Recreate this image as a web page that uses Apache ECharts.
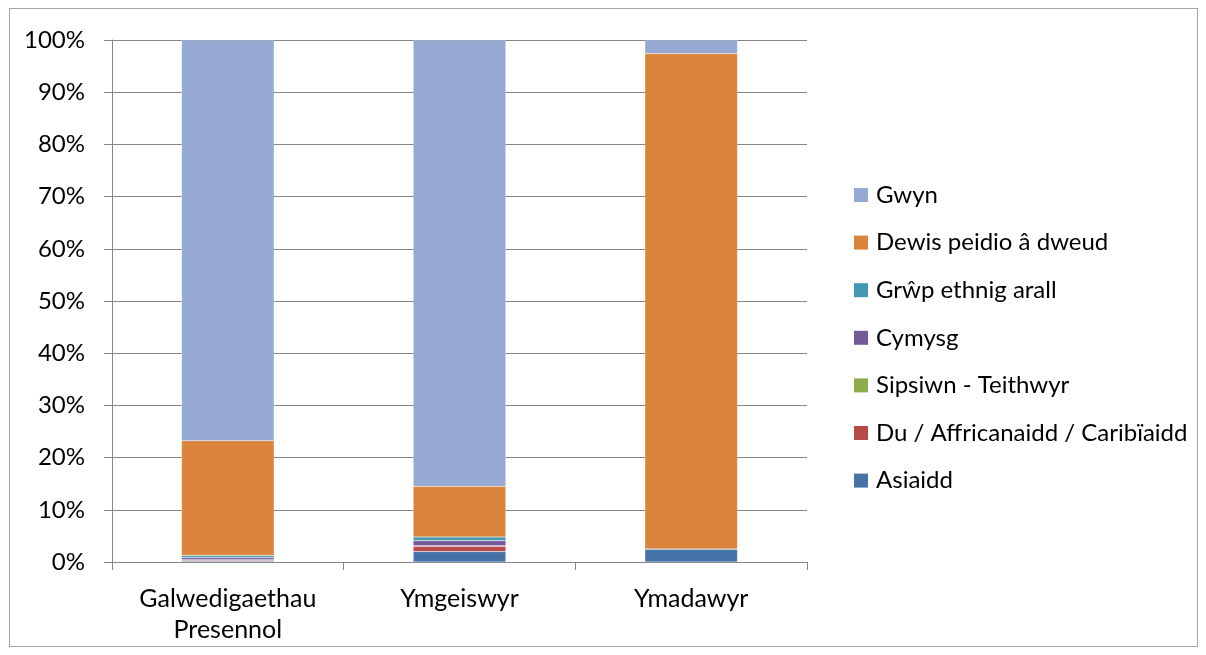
<!DOCTYPE html>
<html>
<head>
<meta charset="utf-8">
<script src="https://cdn.jsdelivr.net/npm/echarts@6/dist/echarts.min.js"></script>
<style>
  html, body { margin: 0; padding: 0; background: #fff; }
  .frame {
    position: absolute; left: 9px; top: 8px; width: 1189px; height: 639px;
    border: 1px solid #a6a6a6; box-sizing: border-box;
  }
  #chart { position: absolute; left: 0; top: 0; width: 1206px; height: 655px; }
</style>
</head>
<body>
<div class="frame"></div>
<div id="chart"></div>
<script>
// categorïau
const categories = ['Galwedigaethau\nPresennol', 'Ymgeiswyr', 'Ymadawyr']
// canrannau ar gyfer pob grŵp
const asiaidd = [0.2, 2.0, 2.5]
const du = [0.2, 1.0, 0]
const sipsiwn = [0.05, 0.1, 0]
const cymysg = [0.4, 1.0, 0]
const grwpArall = [0.4, 0.7, 0]
const dewis = [22.0, 9.7, 94.9]
const gwyn = [76.75, 85.5, 2.6]

const seriesNames = ['Asiaidd', 'Du / Affricanaidd / Caribïaidd', 'Sipsiwn - Teithwyr', 'Cymysg', 'Grŵp ethnig arall', 'Dewis peidio â dweud', 'Gwyn']
const seriesData = [asiaidd, du, sipsiwn, cymysg, grwpArall, dewis, gwyn]
const colors = ['#4572a7', '#b74a46', '#8cad4b', '#755a99', '#4299b1', '#da843e', '#95a9d3']

const font = 'Lato, "Open Sans", sans-serif'
const myChart = echarts.init(document.getElementById('chart'))
myChart.setOption({
  animation: false,
  color: colors,
  textStyle: { fontFamily: font },
  grid: { left: 112, right: 399, top: 40, bottom: 93 },
  legend: {
    orient: 'vertical',
    left: 849,
    top: 178,
    itemWidth: 14,
    itemHeight: 14,
    itemGap: 23.6,
    icon: 'rect',
    data: seriesNames.slice().reverse(),
    textStyle: { fontSize: 24, color: '#000', fontFamily: font, padding: [0, 0, 0, 3] },
    itemStyle: { borderWidth: 0 }
  },
  xAxis: {
    type: 'category',
    data: categories,
    axisLine: { lineStyle: { color: '#868686' } },
    axisTick: { show: true, length: 8, lineStyle: { color: '#868686' } },
    axisLabel: { color: '#000', fontSize: 25, lineHeight: 31, margin: 21, fontFamily: font }
  },
  yAxis: {
    type: 'value',
    min: 0,
    max: 100,
    interval: 10,
    axisLine: { show: true, lineStyle: { color: '#868686' } },
    axisTick: { show: true, length: 8, lineStyle: { color: '#868686' } },
    axisLabel: { color: '#000', fontSize: 24, margin: 27, formatter: '{value}%', fontFamily: font },
    splitLine: { lineStyle: { color: '#868686' } }
  },
  series: seriesNames.map((name, i) => ({
    name: name,
    type: 'bar',
    stack: 'total',
    barWidth: '40%',
    data: seriesData[i],
    itemStyle: { borderColor: 'rgba(255,255,255,0.35)', borderWidth: 0.5 }
  }))
})
</script>
</body>
</html>
